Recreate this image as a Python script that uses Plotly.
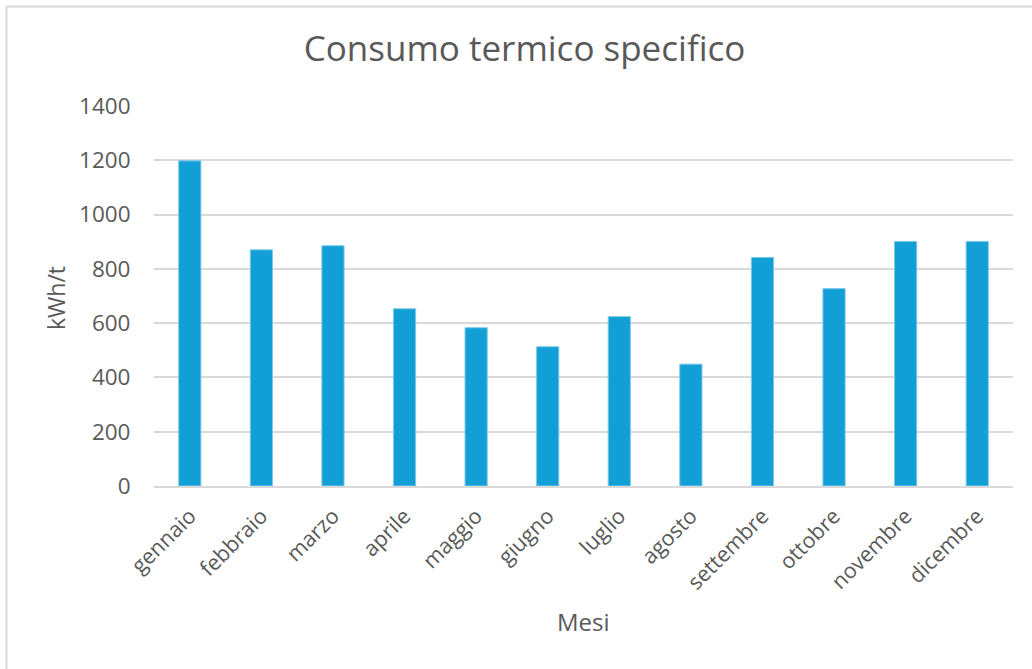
import plotly.graph_objects as go

mesi = ["gennaio", "febbraio", "marzo", "aprile", "maggio", "giugno",
        "luglio", "agosto", "settembre", "ottobre", "novembre", "dicembre"]
consumo_kwh_t = [1198, 870, 885, 653, 583, 513, 624, 449, 842, 727, 901, 901]
y_ticks = [0, 200, 400, 600, 800, 1000, 1200, 1400]

W, H = 1032, 669
L, R, T, B = 154, 19, 106, 183
pw, ph = W - L - R, H - T - B

TEXT = "#595959"
GRID = "#d9d9d9"
FONT = "Open Sans"

fig = go.Figure(
    go.Bar(
        x=mesi,
        y=consumo_kwh_t,
        marker=dict(color="#119fd6", line=dict(color="#7cc8ea", width=1)),
        hoverinfo="x+y",
    )
)

fig.update_layout(
    width=W,
    height=H,
    margin=dict(l=L, r=R, t=T, b=B),
    paper_bgcolor="white",
    plot_bgcolor="white",
    bargap=0.69,
    showlegend=False,
    font=dict(family=FONT, color=TEXT, size=21),
    title=dict(
        text="Consumo termico specifico",
        x=524.5 / W,
        xref="container",
        xanchor="center",
        y=1 - 49 / H,
        yref="container",
        yanchor="middle",
        font=dict(family=FONT, size=35, color=TEXT),
    ),
)

fig.update_xaxes(
    tickangle=-45,
    showgrid=False,
    showline=True,
    linecolor=GRID,
    linewidth=2,
    ticks="outside",
    ticklen=7,
    tickcolor="rgba(0,0,0,0)",
    tickfont=dict(size=21.5, color=TEXT),
)

fig.update_yaxes(
    range=[0, 1400],
    tickvals=y_ticks,
    showgrid=True,
    gridcolor=GRID,
    gridwidth=1.5,
    zeroline=False,
    showline=False,
    ticks="outside",
    ticklen=18,
    tickcolor="rgba(0,0,0,0)",
    tickfont=dict(size=22.5, color=TEXT),
)

# axis titles placed as annotations relative to the plot area
fig.add_annotation(
    text="kWh/t", textangle=-90,
    xref="paper", yref="paper",
    x=(56 - L) / pw, y=1 - (298 - T) / ph,
    xanchor="center", yanchor="middle", showarrow=False,
    font=dict(family=FONT, size=23, color=TEXT),
)
fig.add_annotation(
    text="Mesi",
    xref="paper", yref="paper",
    x=0.5, y=1 - (621 - T) / ph,
    xanchor="center", yanchor="middle", showarrow=False,
    font=dict(family=FONT, size=24, color=TEXT),
)

# chart frame (left and top edges visible)
fx = (6.5 - L) / pw
fy = 1 + (T - 6.5) / ph
fig.add_shape(type="line", xref="paper", yref="paper",
              x0=fx, x1=fx, y0=fy, y1=-1, line=dict(color=GRID, width=2))
fig.add_shape(type="line", xref="paper", yref="paper",
              x0=fx, x1=2, y0=fy, y1=fy, line=dict(color=GRID, width=2))

fig.write_html("out.html")
